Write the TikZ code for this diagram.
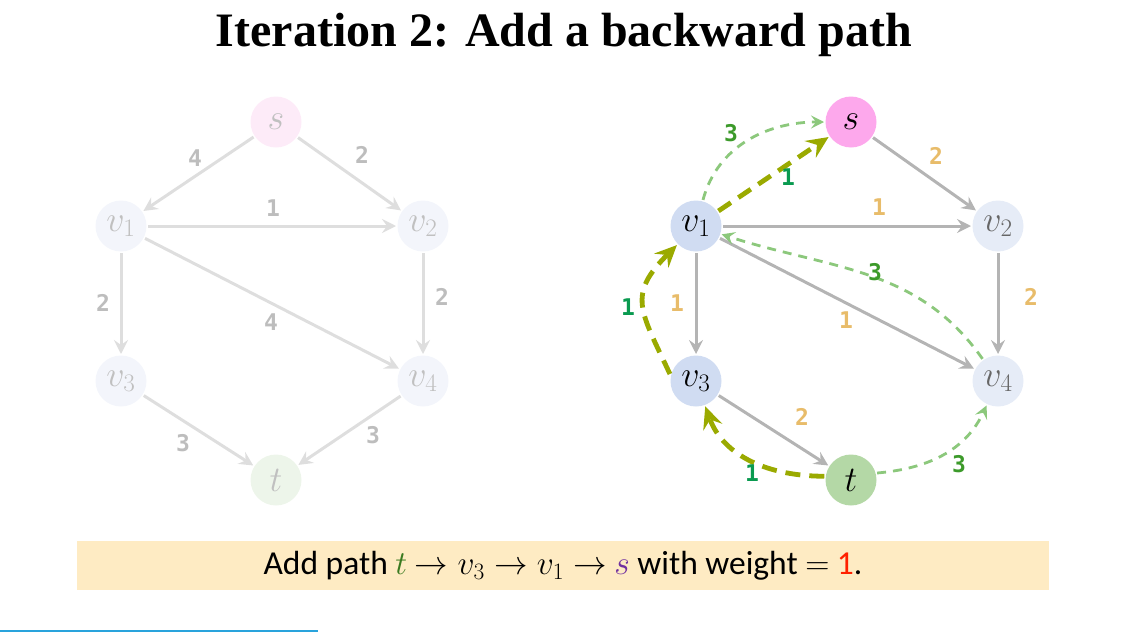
\RequirePackage{fix-cm}
\documentclass[tikz,border=0pt]{standalone}
\usepackage{fontspec}
\newfontfamily\titlefont{Liberation Serif}
\newfontfamily\capfont{Carlito}
\newfontfamily\lblfont{DejaVu Sans Mono}
\usetikzlibrary{arrows.meta}
\definecolor{sF}{HTML}{FDA8EC}
\definecolor{vF}{HTML}{D0DCF2}
\definecolor{vwF}{HTML}{E6ECF7}
\definecolor{tF}{HTML}{B4D8A6}
\definecolor{LsF}{HTML}{FDEBF8}
\definecolor{LvF}{HTML}{F3F5FB}
\definecolor{LtF}{HTML}{EDF5EA}
\definecolor{Ltxt}{HTML}{C0C0C0}
\definecolor{Ledge}{HTML}{DEDEDE}
\definecolor{Llab}{HTML}{BDBDBD}
\definecolor{gEdge}{HTML}{B4B4B4}
\definecolor{orangeLab}{HTML}{E8BC6A}
\definecolor{olive}{HTML}{9AAA00}
\definecolor{lgreen}{HTML}{8CC87C}
\definecolor{labThree}{HTML}{3C9A2A}
\definecolor{labOne}{HTML}{0A9A50}
\definecolor{capBg}{HTML}{FEEBC3}
\definecolor{tGreen}{HTML}{3A7A20}
\definecolor{sPurple}{HTML}{7030A0}
\definecolor{oneRed}{HTML}{FF2000}
\definecolor{ruleBlue}{HTML}{29A3DC}
\tikzset{
  vnode/.style={circle, minimum size=51pt, inner sep=0pt, outer sep=1.5pt, font=\fontsize{36}{36}\selectfont},
  lnode/.style={vnode, text=Ltxt},
  ledge/.style={draw=Ledge, line width=3pt, -{Stealth[length=14pt,width=14pt,inset=5pt]}},
  gedge/.style={draw=gEdge, line width=3pt, -{Stealth[length=14pt,width=14pt,inset=5pt]}},
  lgdash/.style={draw=lgreen, line width=2.8pt, dash pattern=on 9pt off 7pt, -{Stealth[length=13pt,width=13pt,inset=5pt]}},
  oldash/.style={draw=olive, line width=4.8pt, dash pattern=on 15pt off 9pt, -{Stealth[length=22pt,width=20pt,inset=8pt]}},
  lab/.style={font=\lblfont\bfseries\fontsize{23}{23}\selectfont, inner sep=0pt},
  llab/.style={lab, text=Llab},
  olab/.style={lab, text=orangeLab},
  glab/.style={lab, text=labThree},
  tlab/.style={lab, text=labOne}
}
\begin{document}
\begin{tikzpicture}[x=1pt,y=1pt]
\useasboundingbox (0,0) rectangle (1133,-632);
% title
\node[font=\titlefont\bfseries\fontsize{48}{52}\selectfont] (title) at (564,-35) {Iteration 2: Add a backward path};
% left graph
\node[lnode, fill=LsF] (Ls) at (276,-122) {$s$};
\node[lnode, fill=LvF] (Lv1) at (121,-226) {$v_1$};
\node[lnode, fill=LvF] (Lv2) at (423,-226) {$v_2$};
\node[lnode, fill=LvF] (Lv3) at (121,-381) {$v_3$};
\node[lnode, fill=LvF] (Lv4) at (423,-381) {$v_4$};
\node[lnode, fill=LtF] (Lt) at (276,-480) {$t$};
\draw[ledge] (Ls) -- (Lv1) node[llab] at (195,-158) {4};
\draw[ledge] (Ls) -- (Lv2) node[llab] at (362,-155) {2};
\draw[ledge] (Lv1) -- (Lv2) node[llab] at (273,-208) {1};
\draw[ledge] (Lv1) -- (Lv3) node[llab] at (103,-303) {2};
\draw[ledge] (Lv2) -- (Lv4) node[llab] at (442,-297) {2};
\draw[ledge] (Lv1) -- (Lv4) node[llab] at (271,-322) {4};
\draw[ledge] (Lv3) -- (Lt) node[llab] at (183,-443) {3};
\draw[ledge] (Lv4) -- (Lt) node[llab] at (373,-435) {3};
% right graph
\node[vnode, fill=sF] (Rs) at (851,-122) {$s$};
\node[vnode, fill=vF] (Rv1) at (696,-226) {$v_1$};
\node[vnode, fill=vwF, text=black!60] (Rv2) at (998,-226) {$v_2$};
\node[vnode, fill=vF] (Rv3) at (696,-381) {$v_3$};
\node[vnode, fill=vwF, text=black!60] (Rv4) at (998,-381) {$v_4$};
\node[vnode, fill=tF] (Rt) at (851,-480) {$t$};
\draw[gedge] (Rs) -- (Rv2) node[olab] at (936,-156) {2};
\draw[gedge] (Rv1) -- (Rv2) node[olab] at (879,-207) {1};
\draw[gedge] (Rv1) -- (Rv3) node[olab] at (677,-303) {1};
\draw[gedge] (Rv2) -- (Rv4) node[olab] at (1031,-297) {2};
\draw[gedge] (Rv1) -- (Rv4) node[olab] at (846,-320) {1};
\draw[gedge] (Rv3) -- (Rt) node[olab] at (802,-417) {2};
% residual light green
\draw[lgdash] (Rv1) to[out=75,in=180] (Rs);
\node[glab] (l3a) at (731,-133) {3};
\draw[lgdash] (Rv4) to[out=125,in=-18] (Rv1);
\node[glab] (l3b) at (875,-272) {3};
\draw[lgdash] (Rt.15) to[out=5,in=-115] (Rv4);
\node[glab] (l3c) at (959,-464) {3};
% olive path
\draw[oldash] (Rv1) -- (Rs);
\node[tlab] (l1a) at (788,-177) {1};
\draw[oldash] (Rv3.165) to[out=115,in=225,looseness=1.4] (Rv1);
\node[tlab] (l1b) at (628,-307) {1};
\draw[oldash] (Rt.172) to[out=180,in=-70] (Rv3);
\node[tlab] (l1c) at (752,-473) {1};
% caption
\fill[capBg] (77,-541) rectangle (1049,-590);
\node[font=\capfont\fontsize{33.5}{35}\selectfont] (cap) at (563,-566) {Add path \textcolor{tGreen}{$t$} $\rightarrow v_3 \rightarrow v_1 \rightarrow$ \textcolor{sPurple}{$s$} with weight $=$ \textcolor{oneRed}{1}.};
% rule
\draw[ruleBlue, line width=1.2pt] (0,-631) -- (318,-631);
\end{tikzpicture}
\end{document}
